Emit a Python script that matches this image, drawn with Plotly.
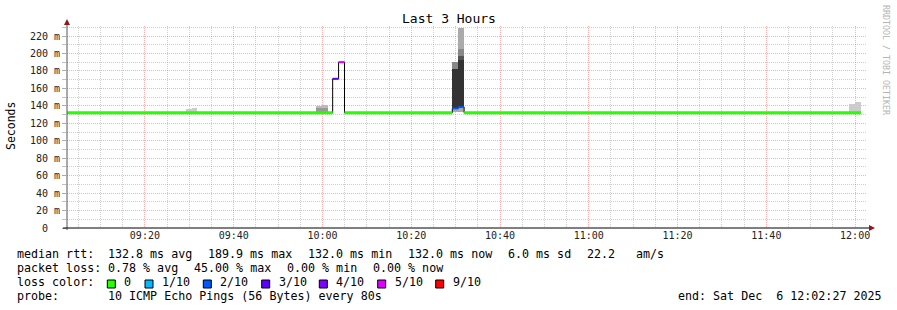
import pandas as pd
import plotly.graph_objects as go

# ---------------- data ----------------
DAY = "2025-12-06 "
x_start = DAY + "09:02:27"
x_end = DAY + "12:02:27"

# median rtt segments (ms) with loss class (tenths)
median_start = ["09:02:27", "10:02:18", "10:03:38", "10:04:58", "10:29:15", "10:30:35", "10:31:55"]
median_end = ["10:02:18", "10:03:38", "10:04:58", "10:29:15", "10:30:35", "10:31:55", "12:01:19"]
median_ms = [132.0, 171.0, 190.0, 132.0, 137.0, 138.6, 132.0]
median_loss = [0, 3, 5, 0, 2, 2, 0]

# smoke (ping spread) blocks: bin start, low, high (ms), shade
smoke_start = ["09:29:10", "09:30:30",
               "09:58:29", "09:58:29", "09:59:49", "09:59:49",
               "10:29:15", "10:29:15", "10:29:15",
               "10:30:35", "10:30:35", "10:30:35", "10:30:35", "10:30:35",
               "11:58:39", "11:59:59"]
smoke_low = [132.0, 132.0,
             133.5, 137.0, 133.5, 137.5,
             133.0, 137.0, 181.8,
             133.0, 138.6, 192.5, 197.0, 204.8,
             133.5, 133.5]
smoke_high = [136.4, 137.5,
              137.0, 139.8, 137.5, 140.8,
              137.0, 181.8, 190.2,
              138.6, 192.5, 197.0, 204.8, 229.0,
              141.7, 144.4]
smoke_shade = ["#cccccc", "#cccccc",
               "#999999", "#bbbbbb", "#999999", "#bbbbbb",
               "#aaaaaa", "#333333", "#888888",
               "#aaaaaa", "#333333", "#555555", "#888888", "#aaaaaa",
               "#cccccc", "#cccccc"]
BIN_SECONDS = 80

loss_labels = ["0", "1/10", "2/10", "3/10", "4/10", "5/10", "9/10"]
loss_levels = [0, 1, 2, 3, 4, 5, 9]
loss_colors = ["#26ff00", "#00b8ff", "#0059ff", "#5e00ff", "#7e00ff", "#dd00ff", "#ff0000"]

y_tick_vals = [0, 20, 40, 60, 80, 100, 120, 140, 160, 180, 200, 220]
y_tick_text = ["0\u00a0\u00a0"] + [f"{v} m" for v in y_tick_vals[1:]]

stats_rtt = ["132.8 ms avg", "189.9 ms max", "132.0 ms min", "132.0 ms now", "6.0 ms sd", "22.2", "am/s"]
stats_loss = ["0.78 % avg", "45.00 % max", "0.00 % min", "0.00 % now"]
probe_text = "10 ICMP Echo Pings (56 Bytes) every 80s"
end_text = "end: Sat Dec\u00a0\u00a06 12:02:27 2025"

# ---------------- layout geometry (pixels) ----------------
W, H = 897, 310
L, R, T, B = 67, 866, 26, 228
Y_MAX = 231.5
FONT = "DejaVu Sans Mono"
LEG_SIZE = 11.66

def px_x(p):
    return (p - L) / (R - L)

def px_y(p):
    return (B - p) / (B - T)

fig = go.Figure()

# smoke
s_start = pd.to_datetime([DAY + s for s in smoke_start])
s_center = s_start + pd.Timedelta(seconds=BIN_SECONDS / 2)
fig.add_trace(go.Bar(
    x=s_center, base=smoke_low,
    y=[h - l for h, l in zip(smoke_high, smoke_low)],
    width=BIN_SECONDS * 1000, marker=dict(color=smoke_shade, line=dict(width=0)),
    hoverinfo="skip", showlegend=False))

# black step outline of the median
step_x = [DAY + s for s in median_start] + [DAY + median_end[-1]]
step_y = median_ms + [median_ms[-1]]
fig.add_trace(go.Scatter(x=step_x, y=step_y, mode="lines",
                         line=dict(color="black", width=1, shape="hv"),
                         hoverinfo="skip", showlegend=False))

# coloured median segments
color_of = dict(zip(loss_levels, loss_colors))
for s, e, v, lo in zip(median_start, median_end, median_ms, median_loss):
    fig.add_trace(go.Scatter(x=[DAY + s, DAY + e], y=[v, v], mode="lines",
                             line=dict(color=color_of[lo], width=3 if lo == 0 else 2),
                             hoverinfo="skip", showlegend=False))

major_grid = "rgba(255,0,0,0.32)"
minor_grid = "rgba(130,130,130,0.38)"

fig.update_layout(
    width=W, height=H, autosize=False,
    margin=dict(l=L, r=W - R, t=T, b=H - B, pad=0),
    paper_bgcolor="white", plot_bgcolor="white",
    barmode="overlay", bargap=0,
    font=dict(family=FONT, size=10, color="black"),
    xaxis=dict(
        type="date", range=[x_start, x_end], automargin=False,
        tick0=DAY + "09:20:00", dtick=20 * 60 * 1000, tickformat="%H:%M",
        showgrid=True, gridcolor=major_grid, griddash="1px,1px", gridwidth=1,
        ticks="", ticklen=0,
        tickfont=dict(family=FONT, size=10, color="#222"),
        minor=dict(tick0=DAY + "09:00:00", dtick=5 * 60 * 1000, showgrid=True,
                   gridcolor=minor_grid, griddash="1px,1px", gridwidth=1),
        showline=False, zeroline=False, fixedrange=True),
    yaxis=dict(
        range=[0, Y_MAX], automargin=False,
        tickmode="array", tickvals=y_tick_vals, ticktext=y_tick_text,
        showgrid=True, gridcolor=major_grid, griddash="1px,1px", gridwidth=1,
        ticks="outside", ticklen=4, tickcolor="rgba(150,150,150,0.8)",
        tickfont=dict(family=FONT, size=10, color="#222"),
        minor=dict(tickmode="array", tickvals=[v + 10 for v in y_tick_vals],
                   showgrid=True, gridcolor=minor_grid, griddash="1px,1px", gridwidth=1,
                   ticks="outside", ticklen=4, tickcolor="rgba(150,150,150,0.6)"),
        showline=False, zeroline=False, fixedrange=True),
)

shapes = []
# y axis line + arrow
shapes.append(dict(type="line", xref="paper", yref="paper",
                   x0=px_x(L), x1=px_x(L), y0=px_y(230), y1=px_y(23),
                   line=dict(color="#555555", width=1), layer="above"))
shapes.append(dict(type="path", xref="paper", yref="paper",
                   path=f"M {px_x(64)} {px_y(25)} L {px_x(70)} {px_y(25)} L {px_x(67)} {px_y(19)} Z",
                   fillcolor="#8b1a1a", line=dict(width=0), layer="above"))
# x axis line + arrow
shapes.append(dict(type="line", xref="paper", yref="paper",
                   x0=px_x(63), x1=px_x(870), y0=px_y(228), y1=px_y(228),
                   line=dict(color="black", width=1), layer="above"))
shapes.append(dict(type="path", xref="paper", yref="paper",
                   path=f"M {px_x(869)} {px_y(225)} L {px_x(869)} {px_y(231)} L {px_x(875)} {px_y(228)} Z",
                   fillcolor="#8b1a1a", line=dict(width=0), layer="above"))

annotations = []

def text(x, y, s, size=LEG_SIZE, color="black", anchor="left", angle=0):
    annotations.append(dict(xref="paper", yref="paper", x=px_x(x), y=px_y(y), text=s,
                            showarrow=False, xanchor=anchor, yanchor="middle",
                            textangle=angle, borderpad=0,
                            font=dict(family=FONT, size=size, color=color)))

text(448.5, 19, "Last 3 Hours", size=13, anchor="center")
text(11, 126, "Seconds", size=11.5, anchor="center", angle=-90)
text(886, 60, "RRDTOOL / TOBI OETIKER", size=8.3, color="#b4b4b4", anchor="center", angle=90)

# legend lines
text(16, 254, "median rtt:")
for xpos, s in zip([107.3, 207.3, 307.3, 407.3, 507.3, 586, 635], stats_rtt):
    text(xpos, 254, s)
text(16, 268, "packet loss:")
for xpos, s in zip([107.3, 193.3, 286.3, 372.3], stats_loss):
    text(xpos, 268, s)
text(16, 282, "loss color:")
sq_x = [107.3, 145, 203.3, 261.7, 319.3, 377.7, 435.7]
for sx, lab, col in zip(sq_x, loss_labels, loss_colors):
    shapes.append(dict(type="rect", xref="paper", yref="paper",
                       x0=px_x(sx), x1=px_x(sx + 8), y0=px_y(288), y1=px_y(280),
                       fillcolor=col, line=dict(color="black", width=1)))
    text(sx + 16, 282, lab)
text(16, 296, "probe:")
text(107.3, 296, probe_text)
text(677, 296, end_text)

fig.update_layout(shapes=shapes, annotations=annotations)
fig.write_html("out.html")
